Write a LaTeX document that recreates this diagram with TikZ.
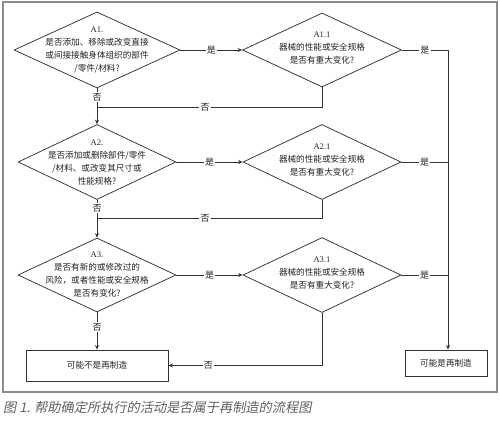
\documentclass[tikz,border=0pt]{standalone}
\usepackage{fontspec}
\setmainfont{Liberation Serif}
\newfontfamily\cjk{Noto Sans CJK SC}
\newfontfamily\capfont[FakeSlant=0.2]{Noto Sans CJK SC}
\usetikzlibrary{shapes.geometric,arrows.meta}

\definecolor{linegray}{HTML}{333333}
\definecolor{framegray}{HTML}{8C8C8C}
\definecolor{textgray}{HTML}{222222}
\definecolor{capgray}{HTML}{606060}

\tikzset{
  decision/.style={diamond, draw=linegray, line width=0.75pt, inner sep=0pt,
    minimum width=#1},
  decision/.default=158pt,
  qtext/.style={align=center, text=textgray, font=\fontsize{8.6}{13}\cjk},
  outcome/.style={rectangle, draw=linegray, line width=0.85pt, align=center,
    text=textgray, font=\fontsize{8.6}{13}\cjk},
  flow/.style={draw=linegray, line width=0.75pt},
  arr/.style={flow, -{Stealth[length=4.5pt,width=4pt]}},
  ans/.style={fill=white, inner sep=1.2pt, text=textgray, font=\fontsize{9}{11}\cjk},
}

\begin{document}
\begin{tikzpicture}[x=1pt,y=-1pt]
  \useasboundingbox (0,0) rectangle (500,420);
  % frame and caption
  \draw[framegray, line width=1.2pt] (3,2) rectangle (497,392);
  \node[anchor=west, text=capgray, font=\fontsize{13.2}{15}\capfont, inner sep=0pt]
    (caption) at (3,407) {图 1. 帮助确定所执行的活动是否属于再制造的流程图};

  % questions
  \node[decision=166pt, minimum height=76pt,
    label={[qtext]center:{\rmfamily A1.}\\是否添加、移除或改变直接\\或间接接触身体组织的部件\\/零件/材料?}]
    (a1) at (97,50) {};
  \node[decision=159pt, minimum height=74pt,
    label={[qtext, yshift=1.5pt]center:{\rmfamily A1.1}\\器械的性能或安全规格\\是否有重大变化?}]
    (a11) at (322,50) {};
  \node[decision, minimum height=75pt,
    label={[qtext]center:{\rmfamily A2.}\\是否添加或删除部件/零件\\/材料、或改变其尺寸或\\性能规格?}]
    (a2) at (97,162) {};
  \node[decision, minimum height=75pt,
    label={[qtext, yshift=1.5pt]center:{\rmfamily A2.1}\\器械的性能或安全规格\\是否有重大变化?}]
    (a21) at (322,162) {};
  \node[decision, minimum height=74pt,
    label={[qtext]center:{\rmfamily A3.}\\是否有新的或修改过的\\风险，或者性能或安全规格\\是否有变化?}]
    (a3) at (97,275) {};
  \node[decision, minimum height=75pt,
    label={[qtext, yshift=1.5pt]center:{\rmfamily A3.1}\\器械的性能或安全规格\\是否有重大变化?}]
    (a31) at (322,275) {};

  % outcomes
  \node[outcome, minimum width=142pt, minimum height=31pt] (notreman) at (97,365.5) {可能不是再制造};
  \node[outcome, minimum width=82pt, minimum height=26pt] (reman) at (446,363) {可能是再制造};

  \coordinate (rline) at (448,50);
  \coordinate (join1) at (97,107);
  \coordinate (join2) at (97,218);

  % yes branches
  \draw[arr] (a1) -- node[ans] {是} (a11);
  \draw[arr] (a2) -- node[ans] {是} (a21);
  \draw[arr] (a3) -- node[ans] {是} (a31);
  \draw[arr] (a11.east) -- node[ans] {是} (rline) -- (rline |- reman.north);
  \draw[flow] (a21.east) -- node[ans] {是} (a21.east -| rline);
  \draw[flow] (a31.east) -- node[ans] {是} (a31.east -| rline);

  % no branches
  \draw[arr] (a1.south) -- node[ans, pos=0.25] {否} (a2.north);
  \draw[arr] (a2.south) -- node[ans, pos=0.22] {否} (a3.north);
  \draw[arr] (a3.south) -- node[ans, pos=0.4] {否} (notreman.north);
  \draw[flow] (a11.south) |- node[ans, pos=0.76] {否} (join1);
  \draw[flow] (a21.south) |- node[ans, pos=0.76] {否} (join2);
  \draw[arr] (a31.south) |- node[ans, pos=0.87] {否} (notreman.east);
\end{tikzpicture}
\end{document}
